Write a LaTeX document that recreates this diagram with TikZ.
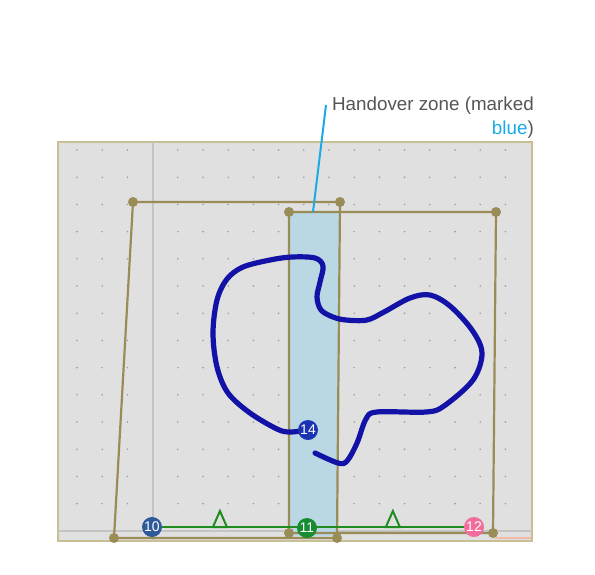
\documentclass[tikz,border=0pt]{standalone}
\usepackage{fontspec}
\setmainfont{Liberation Sans}
\usetikzlibrary{positioning, calc}
\definecolor{bgfill}{HTML}{E0E0E0}
\definecolor{bgframe}{HTML}{C9BF94}
\definecolor{gridline}{HTML}{C4C4C4}
\definecolor{dotgray}{HTML}{9E9E9E}
\definecolor{edgepink}{HTML}{F2B8A8}
\definecolor{zonefill}{HTML}{B9D8E4}
\definecolor{regionline}{HTML}{9A8C56}
\definecolor{pathgreen}{HTML}{1E8C1E}
\definecolor{trackblue}{HTML}{1212A6}
\definecolor{stopten}{HTML}{2E5A9C}
\definecolor{stopeleven}{HTML}{178C32}
\definecolor{stoptwelve}{HTML}{F26D9C}
\definecolor{stopfourteen}{HTML}{1A33B2}
\definecolor{leaderblue}{HTML}{1AAAE6}
\definecolor{labelgray}{HTML}{555555}

\begin{document}
\begin{tikzpicture}[
			x=1pt, y=-1pt,
			region/.style={draw=regionline, line width=2.2pt, line join=round},
			marker/.style={circle, inner sep=0pt, minimum size=20pt, text=white, font=\fontsize{14}{14}\selectfont},
			tri/.style={draw=pathgreen, line width=2pt, line join=miter},
			track/.style={draw=trackblue, line width=5.2pt, line cap=round, line join=round}
			]
			\useasboundingbox (0,0) rectangle (595,574);
			
			% --- Tlo mapy i siatka punktow ---
			\coordinate (bgtl) at (58,142);
			\coordinate (bgbr) at (532,541);
			\draw[fill=bgfill, draw=bgframe, line width=2pt] (bgtl) rectangle (bgbr);
			\foreach \i in {0,...,17}
				\foreach \j in {0,...,14}
					\fill[dotgray] (77+25.2*\i, 150+27.2*\j) circle (0.9);
			\draw[gridline, line width=1.2pt] (153,142) -- (153,541);
			\draw[gridline, line width=1.2pt] (58,531) -- (532,531);
			\draw[edgepink, line width=1.2pt] (495,538) -- (531,538);
			
			% --- Strefa przekazania ---
			\fill[zonefill] (289,212) -- (340,212) -- (337,536) -- (289,536) -- cycle;
			
			% --- Obszary (wierzcholki) ---
			\coordinate (a1) at (133,202);
			\coordinate (a2) at (340,202);
			\coordinate (a3) at (337,538);
			\coordinate (a4) at (114,538);
			\coordinate (b1) at (289,212);
			\coordinate (b2) at (496,212);
			\coordinate (b3) at (493,533);
			\coordinate (b4) at (289,533);
			\draw[region] (a1) -- (a2) -- (a3) -- (a4) -- cycle;
			\draw[region] (b1) -- (b2) -- (b3) -- (b4) -- cycle;
			\foreach \v in {a1,a2,a3,a4,b1,b2,b3,b4}
				\fill[regionline] (\v) circle (5);
			
			% --- Trasa zielona ---
			\coordinate (p10) at (152,527);
			\coordinate (p11) at (307,528);
			\coordinate (p12) at (474,527);
			\coordinate (p14) at (308,430);
			\draw[pathgreen, line width=2pt] (p10) -- (p12)
				coordinate[pos=0.211] (t1) coordinate[pos=0.748] (t2);
			\foreach \t in {t1,t2}
				\draw[tri] (\t) ++(-7,0) -- ++(7,-16) -- ++(7,16) -- cycle;
			
			% --- Trasa niebieska ---
			\draw[track] plot[smooth, tension=0.55] coordinates {
				(p14) (290,432) (277,429) (250,413) (228,393) (217,367) (213,333)
				(217,300) (227,279) (243,267) (270,260) (292,257) (315,258)
				(323,266) (320,282) (317,297) (321,310) (333,317) (346,320)
				(367,320) (384,312) (410,298) (430,295) (450,306) (472,330)
				(482,353) (473,380) (444,406) (426,412) (377,412) (366,419)
				(357,443) (347,461) (338,463) (315,453)};
			
			% --- Znaczniki ---
			\node[marker, fill=stopten] (m10) at (p10) {10};
			\node[marker, fill=stopeleven] (m11) at (p11) {11};
			\node[marker, fill=stoptwelve] (m12) at (p12) {12};
			\node[marker, fill=stopfourteen] (m14) at (p14) {14};
			
			% --- Opis strefy ---
			\node[anchor=north east, align=right, inner sep=0pt, text=labelgray,
				font=\fontsize{18.8}{24}\selectfont] (label) at (534,97)
				{Handover zone (marked\\\textcolor{leaderblue}{blue})};
			\coordinate (leadtop) at (326,105);
			\coordinate (zonetop) at (313,212);
			\draw[leaderblue, line width=2pt] (leadtop) -- (zonetop);
			
		\end{tikzpicture}
\end{document}
